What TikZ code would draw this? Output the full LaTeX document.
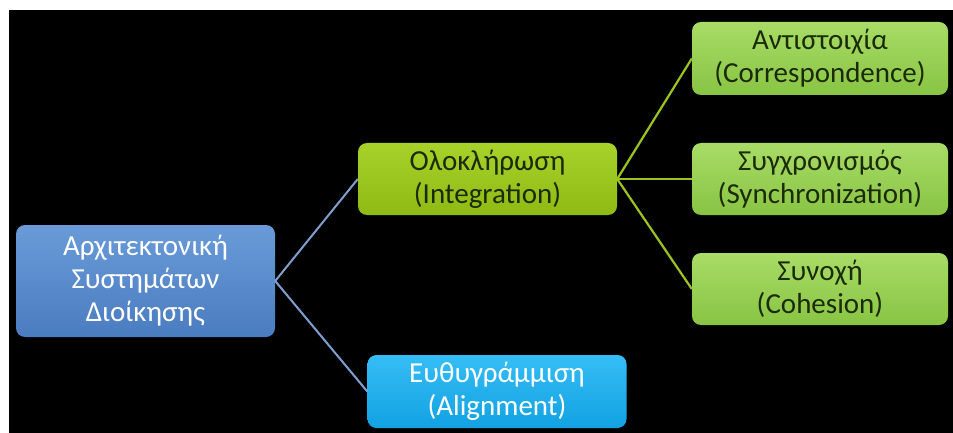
\documentclass[tikz,border=0pt]{standalone}
\usepackage{fontspec}
\setmainfont{Carlito}
\begin{document}
\begin{tikzpicture}[x=1pt,y=-1pt,
  box/.style={rounded corners=9pt, align=center, inner sep=0pt,
    font=\fontsize{29}{33}\selectfont, draw=none},
  rootbox/.style={box, top color=rootTop, bottom color=rootBot, text=white},
  intbox/.style={box, top color=intTop, bottom color=intBot, text=darkText},
  leafbox/.style={box, top color=leafTop, bottom color=leafBot, text=darkText},
  alnbox/.style={box, top color=alnTop, bottom color=alnBot, text=white},
  bluelink/.style={draw=linkBlue, line width=2pt},
  greenlink/.style={draw=linkGreen, line width=2.2pt}]
  \definecolor{rootTop}{HTML}{6A9BD8}
  \definecolor{rootBot}{HTML}{4A7CC0}
  \definecolor{intTop}{HTML}{A6D22A}
  \definecolor{intBot}{HTML}{8FBA14}
  \definecolor{leafTop}{HTML}{A8DC66}
  \definecolor{leafBot}{HTML}{88C444}
  \definecolor{alnTop}{HTML}{35BDF5}
  \definecolor{alnBot}{HTML}{12A2E2}
  \definecolor{darkText}{HTML}{1C2A06}
  \definecolor{linkBlue}{HTML}{7F9FD0}
  \definecolor{linkGreen}{HTML}{9CC31E}

  % canvas
  \useasboundingbox (0,0) rectangle (953,433);
  \fill[white] (0,0) rectangle (953,433);
  \fill[black] (9,10) rectangle (953,433);

  % boxes
  \node[rootbox, minimum width=259pt, minimum height=112pt] (root) at (145.5,281)
    {Αρχιτεκτονική\\Συστημάτων\\Διοίκησης};
  \node[intbox, minimum width=259pt, minimum height=72pt] (integ) at (487.5,179)
    {Ολοκλήρωση\\(Integration)};
  \node[leafbox, minimum width=256pt, minimum height=73pt] (corr) at (820,58.5)
    {Αντιστοιχία\\(Correspondence)};
  \node[leafbox, minimum width=256pt, minimum height=72pt] (sync) at (820,179)
    {Συγχρονισμός\\(Synchronization)};
  \node[leafbox, minimum width=256pt, minimum height=72pt] (coh) at (820,289)
    {Συνοχή\\(Cohesion)};
  \node[alnbox, minimum width=259pt, minimum height=73pt] (align) at (497,391.5)
    {Ευθυγράμμιση\\(Alignment)};

  % connectors
  \draw[bluelink] (root.east) -- (integ.west);
  \draw[bluelink] (root.east) -- (align.west);
  \draw[greenlink] (integ.east) -- (corr.west);
  \draw[greenlink] (integ.east) -- (sync.west);
  \draw[greenlink] (integ.east) -- (coh.west);
\end{tikzpicture}
\end{document}
